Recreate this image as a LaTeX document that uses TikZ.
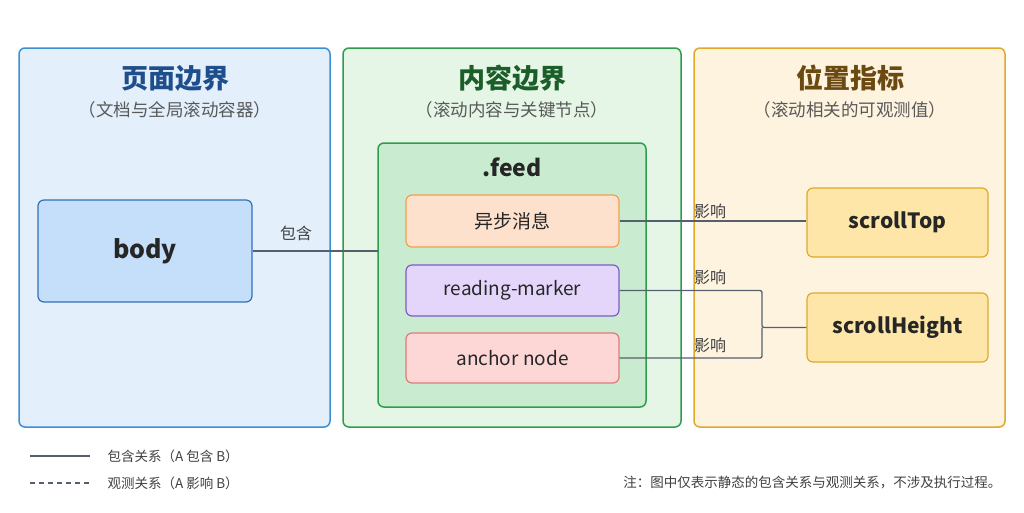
\documentclass[tikz,border=0pt]{standalone}
\usepackage{fontspec}
\setmainfont{Noto Sans CJK SC}
\definecolor{bB}{HTML}{3A8FD6}\definecolor{bF}{HTML}{E3F0FC}
\definecolor{gB}{HTML}{2E9E4A}\definecolor{gF}{HTML}{E6F6E6}
\definecolor{yB}{HTML}{E0A92A}\definecolor{yF}{HTML}{FDF3DF}
\definecolor{t1c}{HTML}{1F4E8C}\definecolor{t2c}{HTML}{1C5E2A}\definecolor{t3c}{HTML}{6B4A12}
\definecolor{feedF}{HTML}{C9ECD0}
\definecolor{oB}{HTML}{F0A050}\definecolor{oF}{HTML}{FDE1CC}
\definecolor{pB}{HTML}{7E5BC9}\definecolor{pF}{HTML}{E4D6FB}
\definecolor{rB}{HTML}{E07A7A}\definecolor{rF}{HTML}{FDD6D6}
\definecolor{bdB}{HTML}{3070B8}\definecolor{bdF}{HTML}{C5DEFA}
\definecolor{sF}{HTML}{FDE6A8}
\definecolor{lineC}{HTML}{56606C}
\begin{document}
\begin{tikzpicture}[x=1pt,y=-1pt,
  panel/.style={draw=#1,line width=1.5pt,rounded corners=6pt},
  box/.style={line width=1.2pt,rounded corners=6pt,font=\fontsize{19}{22}\selectfont,text=black!85},
  ttl/.style={font=\fontsize{27}{30}\selectfont\bfseries},
  sub/.style={font=\fontsize{17.5}{20}\selectfont,text=black!65},
  con/.style={draw=lineC,line width=1.3pt},
  lbl/.style={font=\fontsize{16}{18}\selectfont,text=black!75}]
\useasboundingbox (0,0) rectangle (1024,512);
\fill[white] (0,0) rectangle (1024,512);
\draw[panel=bB,fill=bF] (19,48) rectangle (330,427);
\draw[panel=gB,fill=gF] (343,48) rectangle (681,427);
\draw[panel=yB,fill=yF] (694,48) rectangle (1005,427);
\node[ttl,text=t1c] (t1) at (175,78) {页面边界};
\node[sub] (s1) at (175,110) {（文档与全局滚动容器）};
\node[ttl,text=t2c] (t2) at (512,78) {内容边界};
\node[sub] (s2) at (512,110) {（滚动内容与关键节点）};
\node[ttl,text=t3c] (t3) at (850,78) {位置指标};
\node[sub] (s3) at (850,110) {（滚动相关的可观测值）};
\draw[line width=1.5pt,rounded corners=6pt,draw=gB,fill=feedF] (378,143) rectangle (646,407);
\node[font=\fontsize{23}{26}\selectfont\bfseries,text=black!85] (feed) at (512,167) {.feed};
\node[box,draw=oB,fill=oF,minimum width=213pt,minimum height=52pt] (a) at (512.5,221) {异步消息};
\node[box,draw=pB,fill=pF,minimum width=213pt,minimum height=51pt] (r) at (512.5,290.5) {reading-marker};
\node[box,draw=rB,fill=rF,minimum width=213pt,minimum height=50pt] (n) at (512.5,358) {anchor node};
\node[box,font=\fontsize{25}{28}\selectfont\bfseries,draw=bdB,fill=bdF,minimum width=214pt,minimum height=102pt] (body) at (145,251) {body};
\node[box,font=\fontsize{21}{24}\selectfont\bfseries,draw=yB,fill=sF,minimum width=181pt,minimum height=69pt] (st) at (897.5,222.5) {scrollTop};
\node[box,font=\fontsize{21}{24}\selectfont\bfseries,draw=yB,fill=sF,minimum width=181pt,minimum height=69pt] (sh) at (897.5,327.5) {scrollHeight};
\coordinate (fw) at (378,251);
\draw[con] (body.east) -- (fw);
\node[lbl] (l0) at (296,233) {包含};
\draw[con] (a.east) -- (a.east -| st.west);
\node[lbl] (l1) at (710,211) {影响};
\coordinate (j) at (762,327.5);
\draw[con,rounded corners=2pt] (r.east) -| (j) -- (sh.west);
\draw[con,rounded corners=2pt] (n.east) -| (j);
\node[lbl] (l2) at (710,277) {影响};
\node[lbl] (l3) at (710,345) {影响};
\coordinate (g1) at (30,456); \coordinate (g2) at (90,456);
\coordinate (g3) at (30,483); \coordinate (g4) at (90,483);
\draw[con,line width=1.2pt] (g1) -- (g2);
\draw[con,line width=1.2pt,dash pattern=on 5pt off 4pt] (g3) -- (g4);
\node[lbl,anchor=west,font=\fontsize{13.5}{15}\selectfont] (k1) at (104,456) {包含关系（A 包含 B）};
\node[lbl,anchor=west,font=\fontsize{13.5}{15}\selectfont] (k2) at (104,483) {观测关系（A 影响 B）};
\node[lbl,anchor=east,font=\fontsize{13.5}{15}\selectfont] (note) at (1005,483) {注：图中仅表示静态的包含关系与观测关系，不涉及执行过程。};
\end{tikzpicture}
\end{document}
